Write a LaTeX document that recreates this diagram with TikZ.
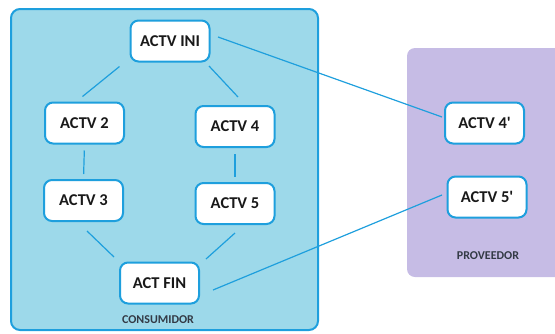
\documentclass[tikz,border=0pt]{standalone}
\usepackage{fontspec}
\setmainfont{Carlito}
\definecolor{linkblue}{HTML}{1E9FDD}
\definecolor{consfill}{HTML}{9DD9EA}
\definecolor{provfill}{HTML}{C6BCE5}
\definecolor{labelgray}{HTML}{333A45}
\tikzset{
  x=1pt, y=-1pt,
  zone/.style={rounded corners=9pt, line width=2pt},
  actbox/.style={draw=linkblue, fill=white, line width=2pt, rounded corners=8pt,
    minimum width=79pt, minimum height=41pt, inner sep=0pt, text=black!90,
    font=\fontsize{16.5}{18}\selectfont\bfseries},
  zonelabel/.style={font=\fontsize{12}{14}\selectfont\bfseries, text=labelgray},
  link/.style={draw=linkblue, line width=1.2pt},
  inner/.style={link, shorten <=6pt, shorten >=5pt}
}
\begin{document}
\begin{tikzpicture}
\useasboundingbox (0,0) rectangle (555,333);
% provider zone (runs off the right edge)
\fill[provfill, rounded corners=8pt] (407,48) rectangle (570,277);
% consumer zone
\draw[zone, draw=linkblue, fill=consfill] (11,9) rectangle (318,330);
% activities
\node[actbox] (ini) at (170,41) {ACTV INI};
\node[actbox] (a2) at (84.5,123) {ACTV 2};
\node[actbox] (a4) at (235,126.5) {ACTV 4};
\node[actbox] (a3) at (83.5,200.5) {ACTV 3};
\node[actbox] (a5) at (235,203.5) {ACTV 5};
\node[actbox] (fin) at (159.5,283) {ACT FIN};
\node[actbox] (a4p) at (484.5,123) {ACTV 4\textquotesingle};
\node[actbox] (a5p) at (487,197) {ACTV 5\textquotesingle};
% zone labels
\node[zonelabel] (cons) at (158,320) {CONSUMIDOR};
\node[zonelabel] (prov) at (488,256) {PROVEEDOR};
% flows inside the consumer
\draw[link] ([xshift=-10pt,yshift=-4pt]ini.south west) -- ([xshift=-2pt,yshift=5pt]a2.north);
\draw[link] ([xshift=-1.5pt,yshift=-3.5pt]ini.south east) -- ([xshift=3pt,yshift=8pt]a4.north);
\draw[inner] (a2.south) -- (a3.north);
\draw[inner] (a4.south) -- (a5.north);
\draw[link] ([xshift=3.5pt,yshift=-9pt]a3.south) -- ([xshift=-5pt,yshift=4.5pt]fin.north west);
\draw[link] ([yshift=-8pt]a5.south) -- ([xshift=6pt,yshift=2.5pt]fin.north east);
% flows to the provider
\draw[link] ([xshift=7.5pt,yshift=4pt]ini.east) -- ([xshift=-2pt,yshift=6pt]a4p.west);
\draw[link] ([xshift=13pt,yshift=-7pt]fin.east) -- ([xshift=-4.5pt,yshift=2pt]a5p.west);
\end{tikzpicture}
\end{document}
